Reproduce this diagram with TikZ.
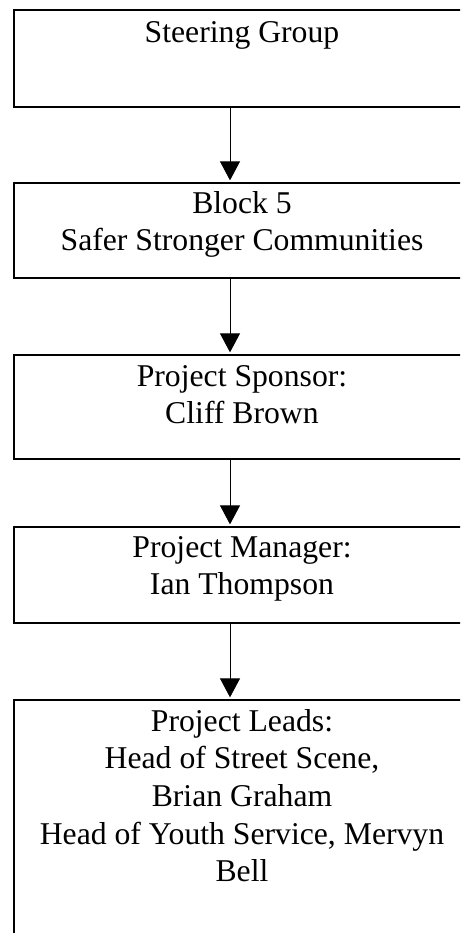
\documentclass[tikz,border=0pt]{standalone}
\usepackage{fontspec}
\setmainfont{Liberation Serif}
\usetikzlibrary{arrows.meta}
\begin{document}
\begin{tikzpicture}[x=1pt,y=-1pt,
  box/.style={draw,line width=1.3pt,inner sep=0pt,rectangle,minimum width=456pt},
  lbl/.style={anchor=north,inner sep=0pt,align=center,font=\fontsize{31.7}{37.6}\selectfont},
  arr/.style={line width=1pt,shorten >=2pt,-{Triangle[width=20pt,length=19pt]}}]
\useasboundingbox (0,0) rectangle (460,933);
\clip (0,0) rectangle (460,933);
\node[box,minimum height=97pt] (b1) at (242,58.5) {};
\node[box,minimum height=95pt] (b2) at (242,230.5) {};
\node[box,minimum height=104pt] (b3) at (242,407) {};
\node[box,minimum height=96pt] (b4) at (242,575) {};
\node[box,minimum height=260pt] (b5) at (242,830) {};
\node[lbl] (t1) at (242,17) {\rule{0pt}{25pt}Steering Group};
\node[lbl] (t2) at (242,188) {\rule{0pt}{25pt}Block 5\\Safer Stronger Communities};
\node[lbl] (t3) at (242,361) {\rule{0pt}{25pt}Project Sponsor:\\Cliff Brown};
\node[lbl] (t4) at (242,532) {\rule{0pt}{25pt}Project Manager:\\Ian Thompson};
\node[lbl] (t5) at (242,706) {\rule{0pt}{25pt}Project Leads:\\Head of Street Scene,\\Brian Graham\\Head of Youth Service, Mervyn\\Bell};
\coordinate (ax) at (230,0);
\draw[arr] (b1.south -| ax) -- (b2.north -| ax);
\draw[arr] (b2.south -| ax) -- (b3.north -| ax);
\draw[arr] (b3.south -| ax) -- (b4.north -| ax);
\draw[arr] (b4.south -| ax) -- (b5.north -| ax);
\end{tikzpicture}
\end{document}
